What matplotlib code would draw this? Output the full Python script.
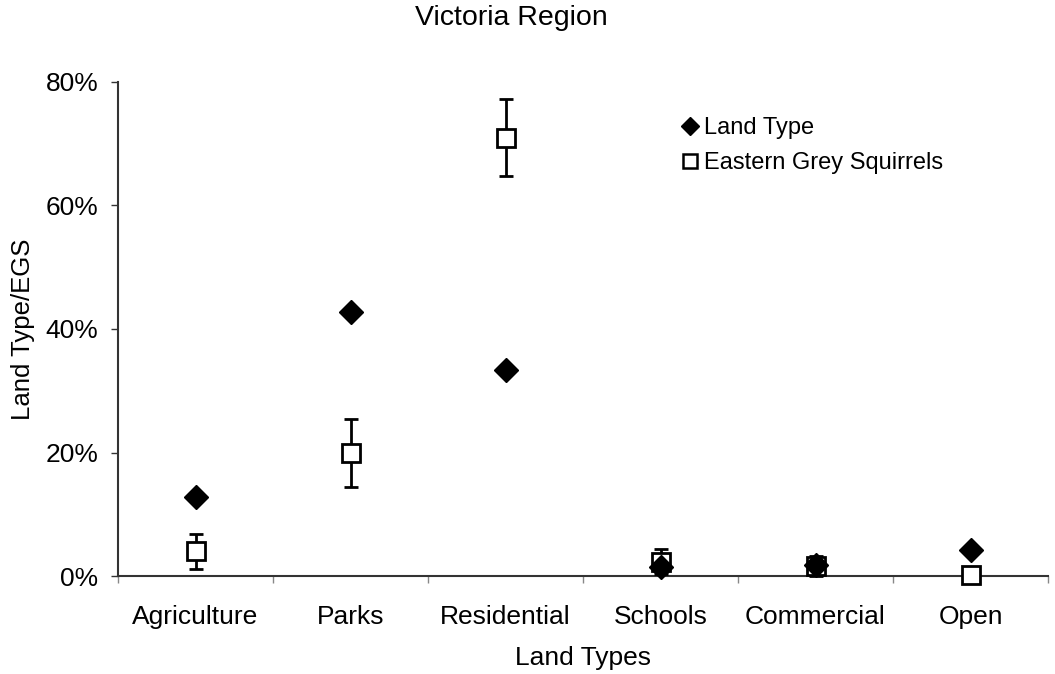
import matplotlib
matplotlib.use("Agg")
import matplotlib.pyplot as plt
from matplotlib.lines import Line2D
import numpy as np

plt.rcParams['font.family'] = ['Liberation Sans', 'DejaVu Sans']

categories = ["Agriculture", "Parks", "Residential", "Schools", "Commercial", "Open"]
land_type = [12.8, 42.7, 33.3, 1.5, 1.8, 4.2]
egs = [4.0, 19.9, 71.0, 2.3, 1.6, 0.2]
egs_err = [2.8, 5.5, 6.3, 2.0, 1.6, 1.0]
yticks = [0, 20, 40, 60, 80]
ytick_labels = ["0%", "20%", "40%", "60%", "80%"]

W, H = 1055, 674
fig = plt.figure(figsize=(W / 100, H / 100), dpi=100)
ax = fig.add_axes([118 / W, 1 - 576 / H, (1048 - 118) / W, (576 - 82) / H])

x = np.arange(len(categories))
ax.errorbar(x, egs, yerr=egs_err, fmt='s', markersize=13,
            markerfacecolor='white', markeredgecolor='black', markeredgewidth=2,
            ecolor='black', elinewidth=2, capsize=5, capthick=2,
            linestyle='none', zorder=3, clip_on=False)
ax.plot(x, land_type, linestyle='none', marker='D', markersize=12,
        color='black', zorder=4, clip_on=False)

ax.set_xlim(-0.5, len(categories) - 0.5)
ax.set_ylim(0, 80)

ax.set_yticks(yticks)
ax.set_yticklabels(ytick_labels)
ax.set_xticks(np.arange(len(categories) + 1) - 0.5)
ax.set_xticklabels([])
ax.set_xticks(x, minor=True)
ax.set_xticklabels(categories, minor=True)

ax.tick_params(axis='y', direction='out', length=5, width=1, colors='#333333',
               labelcolor='black', labelsize=19, pad=9)
ax.tick_params(axis='x', which='major', direction='out', length=5, width=1, colors='#888888')
ax.tick_params(axis='x', which='minor', length=0, labelsize=19, pad=21, labelcolor='black')

for s in ['top', 'right']:
    ax.spines[s].set_visible(False)
for s in ['left', 'bottom']:
    ax.spines[s].set_color('#333333')
    ax.spines[s].set_linewidth(1.5)

ax.set_ylabel("Land Type/EGS", fontsize=18.5, labelpad=8)
ax.set_xlabel("Land Types", fontsize=19, labelpad=12)

fig.text(511 / W, 1 - 18 / H, "Victoria Region", fontsize=20.5, ha='center', va='center')

handles = [
    Line2D([], [], linestyle='none', marker='D', markersize=9, color='black'),
    Line2D([], [], linestyle='none', marker='s', markersize=10, markerfacecolor='white',
           markeredgecolor='black', markeredgewidth=1.8),
]
ax.legend(handles, ["Land Type", "Eastern Grey Squirrels"],
          loc='upper left', bbox_to_anchor=(662 / W, 1 - 96 / H),
          bbox_transform=fig.transFigure, frameon=False, fontsize=17,
          handlelength=0.6, handletextpad=0.3, labelspacing=0.55)

fig.savefig("out.png", dpi=100)
